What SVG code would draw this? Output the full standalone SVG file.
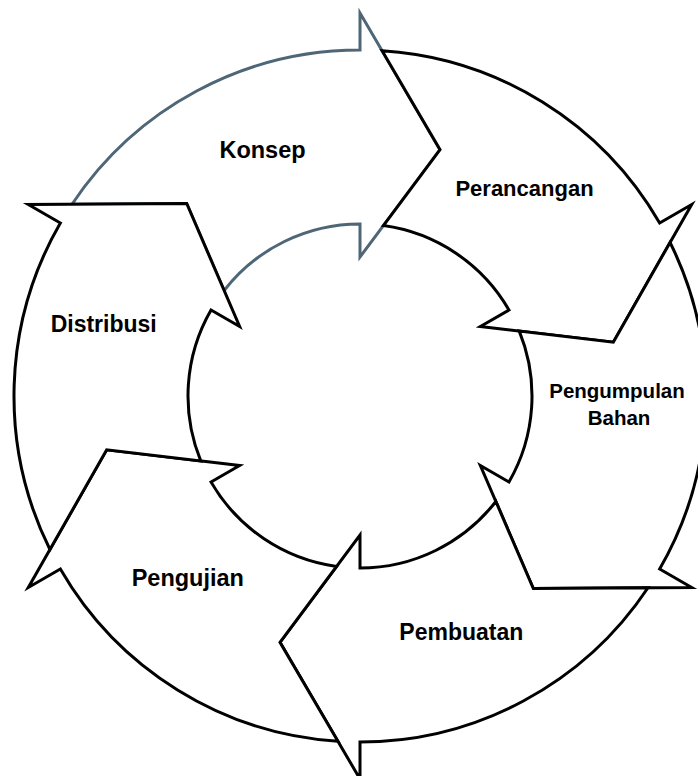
<svg xmlns="http://www.w3.org/2000/svg" width="698" height="776" viewBox="0 0 698 776">
<style>
.arrow{fill:#fff;stroke-width:3;stroke-linejoin:miter;stroke-miterlimit:10}
.dark{stroke:#000}
.grey{stroke:#4e6676}
.lbl{font-family:"Liberation Sans",Arial,sans-serif;font-weight:bold;fill:#000;text-anchor:middle}
</style>
<defs>
<path id="seg" d="M72.01,204.23 A346,346 0 0 1 360,50 L360,13 L440.04,149.68 L360,257 L360,224 A172,172 0 0 0 224.14,290.52 L186.70,203.53 Z"/>
</defs>
<g id="connectors"></g>
<g id="konsep">
<use href="#seg" class="arrow grey"/>
<text class="lbl" x="262.5" y="158" font-size="23.5">Konsep</text>
</g>
<g id="perancangan">
<use href="#seg" class="arrow dark" transform="rotate(60 360 396)"/>
<text class="lbl" x="524.5" y="195.5" font-size="22">Perancangan</text>
</g>
<g id="pengumpulan-bahan">
<use href="#seg" class="arrow dark" transform="rotate(120 360 396)"/>
<text class="lbl" x="617" y="398" font-size="20.5">Pengumpulan</text>
<text class="lbl" x="619" y="425" font-size="20.5">Bahan</text>
</g>
<g id="pembuatan">
<use href="#seg" class="arrow dark" transform="rotate(180 360 396)"/>
<text class="lbl" x="461.3" y="640" font-size="23">Pembuatan</text>
</g>
<g id="pengujian">
<use href="#seg" class="arrow dark" transform="rotate(240 360 396)"/>
<text class="lbl" x="187.8" y="586" font-size="23.5">Pengujian</text>
</g>
<g id="distribusi">
<use href="#seg" class="arrow dark" transform="rotate(300 360 396)"/>
<text class="lbl" x="103.7" y="332.3" font-size="23">Distribusi</text>
</g>
</svg>
